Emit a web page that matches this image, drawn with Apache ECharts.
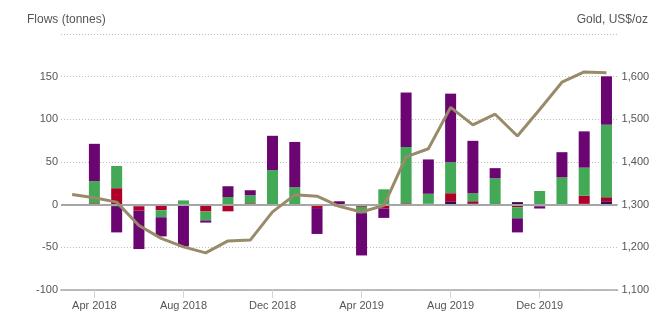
<!DOCTYPE html>
<html>
<head>
<meta charset="utf-8">
<script src="https://cdn.jsdelivr.net/npm/echarts@6/dist/echarts.min.js"></script>
<style>
  html, body { margin: 0; padding: 0; background: #fff; }
  #chart { width: 670px; height: 331px; }
</style>
</head>
<body>
<div id="chart"></div>
<script>
// Months, Mar 2018 – Mar 2020
const months = [
  'Mar 2018', 'Apr 2018', 'May 2018', 'Jun 2018', 'Jul 2018', 'Aug 2018', 'Sep 2018',
  'Oct 2018', 'Nov 2018', 'Dec 2018', 'Jan 2019', 'Feb 2019', 'Mar 2019', 'Apr 2019',
  'May 2019', 'Jun 2019', 'Jul 2019', 'Aug 2019', 'Sep 2019', 'Oct 2019', 'Nov 2019',
  'Dec 2019', 'Jan 2020', 'Feb 2020', 'Mar 2020'
];

// Regional flows, tonnes (no flow bar for the first month)
const other = [null, -1.5, -2.5, -2, 0, -1.5, -1.5, 0, 0, -1, 0, 0, 0, 0,
  -1.5, 0, -1, 4, 1.6, 0.5, 3, 0, 0, 1, 4];
const asia = [null, 1.6, 19.3, -5, -6.5, 0, -6.5, -7.8, 1.6, 0, 0, -4, -2, -2.5,
  -3, 1.6, 1, 9.4, 2.4, -1.5, -3, -2, -1.5, 9.4, 4.7];
const europe = [null, 26, 26, 0, -8.3, 5, -10.5, 9, 9.4, 40.5, 20.5, 0, 0, -7.5,
  18, 66, 11.8, 36.4, 9.4, 30.5, -13, 16, 32, 33, 85];
const northAmerica = [null, 43.7, -30, -45, -22.4, -47.5, -2.5, 12.6, 5.9, 40.2, 53, -30.3, 4, -49.5,
  -11, 63.8, 40.2, 80.3, 61.4, 11.8, -16.5, -2.5, 29.5, 42.5, 56.7];

// Gold price, US$/oz, month end
const gold = [1324, 1316, 1306, 1251, 1221, 1201, 1187, 1215, 1217, 1283, 1323, 1320, 1296, 1283,
  1298, 1412, 1431, 1528, 1487, 1512, 1461, 1523, 1587, 1611, 1609];

const flowTicks = { min: -100, max: 200, step: 50 };
const goldTicks = { min: 1100, max: 1700, step: 100 };

const FONT = '"Liberation Sans", Arial, sans-serif';
const labelEvery4 = (idx) => (idx - 1) % 4 === 0;

function barSeries(name, data, color, extra) {
  return Object.assign({
    name, type: 'bar', stack: 'flows', data,
    barWidth: 11,
    itemStyle: { color },
    emphasis: { disabled: true }
  }, extra || {});
}

const chart = echarts.init(document.getElementById('chart'), null, { renderer: 'canvas' });
chart.setOption({
  animation: false,
  backgroundColor: '#ffffff',
  textStyle: { fontFamily: FONT },
  grid: { left: 61, right: 52.4, top: 34, bottom: 41, containLabel: false },
  graphic: [
    { type: 'text', left: 27, top: 14, style: { text: 'Flows (tonnes)', font: '12px ' + FONT, fill: '#555' } },
    { type: 'text', right: 22, top: 14, style: { text: 'Gold, US$/oz', font: '12px ' + FONT, fill: '#555' } }
  ],
  xAxis: {
    type: 'category',
    data: months,
    boundaryGap: true,
    axisLine: { onZero: false, lineStyle: { color: '#a6a6a6', width: 1.5 } },
    axisTick: { show: true, interval: labelEvery4, alignWithLabel: true, length: 8, lineStyle: { color: '#ccd6eb' } },
    axisLabel: { interval: labelEvery4, color: '#555', fontSize: 11, margin: 10, fontFamily: FONT },
    splitLine: { show: false }
  },
  yAxis: [
    {
      type: 'value', min: flowTicks.min, max: flowTicks.max, interval: flowTicks.step,
      axisLine: { show: false }, axisTick: { show: false },
      axisLabel: {
        color: '#555', fontSize: 11, margin: 3, fontFamily: FONT,
        formatter: (v) => (v === flowTicks.max ? '' : String(v))
      },
      splitLine: { lineStyle: { color: '#bdbdbd', type: [1, 2], width: 1 } }
    },
    {
      type: 'value', min: goldTicks.min, max: goldTicks.max, interval: goldTicks.step,
      axisLine: { show: false }, axisTick: { show: false },
      axisLabel: {
        color: '#555', fontSize: 11, margin: 4, fontFamily: FONT,
        formatter: (v) => (v === goldTicks.max ? '' : v.toLocaleString('en-US'))
      },
      splitLine: { show: false }
    }
  ],
  series: [
    barSeries('Other', other, '#3a0a4c', {
      markLine: {
        silent: true, symbol: 'none', label: { show: false },
        lineStyle: { color: '#a6a6a6', type: 'solid', width: 2 },
        data: [{ yAxis: 0 }]
      }
    }),
    barSeries('Asia', asia, '#b0002a'),
    barSeries('Europe', europe, '#43a956'),
    barSeries('North America', northAmerica, '#6a0572'),
    {
      name: 'Gold price', type: 'line', yAxisIndex: 1, data: gold,
      symbol: 'none', smooth: false,
      lineStyle: { color: '#978b69', width: 3 },
      z: 5,
      emphasis: { disabled: true }
    }
  ]
});
</script>
</body>
</html>
